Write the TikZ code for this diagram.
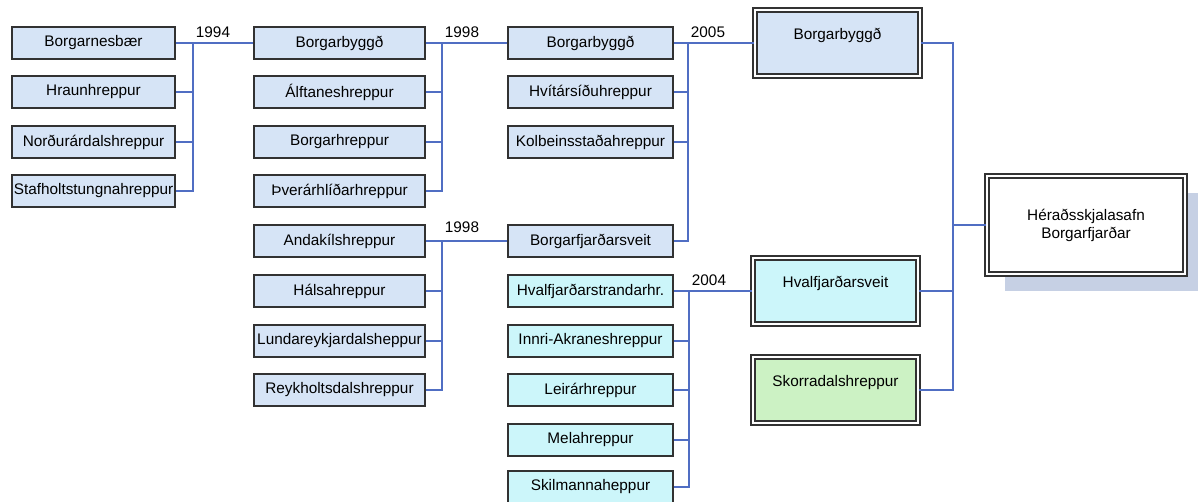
\documentclass[tikz,border=0pt]{standalone}
\usepackage{fontspec}
\setmainfont{Liberation Sans}
\definecolor{munblue}{RGB}{214,228,246}
\definecolor{muncyan}{RGB}{204,246,250}
\definecolor{mungreen}{RGB}{204,242,196}
\definecolor{munedge}{RGB}{50,50,50}
\definecolor{munlink}{RGB}{80,110,195}
\definecolor{munshadow}{RGB}{198,208,228}
\usetikzlibrary{positioning,shadows}

\begin{document}
\begin{tikzpicture}[x=0.75pt,y=-0.75pt,
  mergebox/.style={draw=munedge,line width=1.3pt,fill=munblue,minimum height=24.5pt,
    inner sep=1pt,font=\fontsize{11.5}{13.5}\selectfont},
  mergefinal/.style={mergebox,double=white,line width=1.4pt,double distance=1.6pt,
    minimum width=123.75pt,minimum height=49.5pt,text height=9pt,text depth=13.6pt},
  mergelink/.style={draw=munlink,line width=1pt},
  mergeyear/.style={anchor=south west,inner sep=2pt,yshift=2pt,font=\fontsize{11.5}{13.5}\selectfont}
]
  \useasboundingbox (0,0) rectangle (1198,502);
  % Before 1994
  \node[mergebox,minimum width=122.25pt] (borgarnes) at (93.5,43) {Borgarnesbær};
  \node[mergebox,minimum width=122.25pt] (hraun) at (93.5,92) {Hraunhreppur};
  \node[mergebox,minimum width=122.25pt] (nordurardal) at (93.5,142) {Norðurárdalshreppur};
  \node[mergebox,minimum width=122.25pt] (stafholts) at (93.5,191) {Stafholtstungnahreppur};
  % Before 1998
  \node[mergebox,minimum width=128.25pt] (borgarb94) at (339.5,43) {Borgarbyggð};
  \node[mergebox,minimum width=128.25pt] (alftanes) at (339.5,92) {Álftaneshreppur};
  \node[mergebox,minimum width=128.25pt] (borgarhr) at (339.5,142) {Borgarhreppur};
  \node[mergebox,minimum width=128.25pt] (thverarhlid) at (339.5,191) {Þverárhlíðarhreppur};
  \node[mergebox,minimum width=128.25pt] (andakil) at (339.5,241) {Andakílshreppur};
  \node[mergebox,minimum width=128.25pt] (halsa) at (339.5,291) {Hálsahreppur};
  \node[mergebox,minimum width=128.25pt] (lundar) at (339.5,341) {Lundareykjardalsheppur};
  \node[mergebox,minimum width=128.25pt] (reykholt) at (339.5,390) {Reykholtsdalshreppur};
  % Before 2004/2005
  \node[mergebox,minimum width=123.75pt] (borgarb98) at (590.5,43) {Borgarbyggð};
  \node[mergebox,minimum width=123.75pt] (hvitarsidu) at (590.5,92) {Hvítársíðuhreppur};
  \node[mergebox,minimum width=123.75pt] (kolbeins) at (590.5,142) {Kolbeinsstaðahreppur};
  \node[mergebox,minimum width=123.75pt] (borgarfj) at (590.5,241) {Borgarfjarðarsveit};
  \node[mergebox,minimum width=123.75pt,fill=muncyan] (hvalfjstr) at (590.5,291) {Hvalfjarðarstrandarhr.};
  \node[mergebox,minimum width=123.75pt,fill=muncyan] (innriakr) at (590.5,341) {Innri-Akraneshreppur};
  \node[mergebox,minimum width=123.75pt,fill=muncyan] (leirar) at (590.5,390) {Leirárhreppur};
  \node[mergebox,minimum width=123.75pt,fill=muncyan] (mela) at (590.5,440) {Melahreppur};
  \node[mergebox,minimum width=123.75pt,fill=muncyan] (skilmanna) at (590.5,487) {Skilmannaheppur};
  % Today
  \node[mergefinal] (borgarb05) at (837.5,43) {Borgarbyggð};
  \node[mergefinal,fill=muncyan] (hvalfj) at (835.5,291) {Hvalfjarðarsveit};
  \node[mergefinal,fill=mungreen] (skorradal) at (835.5,390) {Skorradalshreppur};
  \node[mergebox,double=white,line width=1.4pt,double distance=1.6pt,fill=white,align=center,
    minimum width=148.5pt,minimum height=74pt,
    drop shadow={shadow xshift=13.5pt,shadow yshift=-12.75pt,fill=munshadow,opacity=1}]
    (archive) at (1086,225) {Héraðsskjalasafn\\Borgarfjarðar};
  % Junctions
  \coordinate (bus94) at (193,43);
  \coordinate (bus98a) at (442,43);
  \coordinate (bus98b) at (442,241);
  \coordinate (bus05) at (688,43);
  \coordinate (bus04) at (689,291);
  \coordinate (busend) at (953,225);
  % Connectors
  \draw[mergelink] (borgarnes.east) -- (bus94) -- (borgarb94.west);
  \draw[mergelink] (stafholts.east) -| (bus94);
  \foreach \n in {hraun,nordurardal} \draw[mergelink] (\n.east) -- (\n.east -| bus94);
  \draw[mergelink] (borgarb94.east) -- (bus98a) -- (borgarb98.west);
  \draw[mergelink] (thverarhlid.east) -| (bus98a);
  \foreach \n in {alftanes,borgarhr} \draw[mergelink] (\n.east) -- (\n.east -| bus98a);
  \draw[mergelink] (andakil.east) -- (bus98b) -- (borgarfj.west);
  \draw[mergelink] (reykholt.east) -| (bus98b);
  \foreach \n in {halsa,lundar} \draw[mergelink] (\n.east) -- (\n.east -| bus98b);
  \draw[mergelink] (borgarb98.east) -- (bus05) -- (borgarb05.west);
  \draw[mergelink] (borgarfj.east) -| (bus05);
  \foreach \n in {hvitarsidu,kolbeins} \draw[mergelink] (\n.east) -- (\n.east -| bus05);
  \draw[mergelink] (hvalfjstr.east) -- (bus04) -- (hvalfj.west);
  \draw[mergelink] (skilmanna.east) -| (bus04);
  \foreach \n in {innriakr,leirar,mela} \draw[mergelink] (\n.east) -- (\n.east -| bus04);
  \draw[mergelink] (borgarb05.east) -| (busend);
  \draw[mergelink] (skorradal.east) -| (busend);
  \draw[mergelink] (hvalfj.east) -- (hvalfj.east -| busend);
  \draw[mergelink] (busend) -- (archive.west);
  % Years
  \node[mergeyear] (yr94) at (bus94) {1994};
  \node[mergeyear] (yr98a) at (bus98a) {1998};
  \node[mergeyear,yshift=2pt] (yr98b) at (bus98b) {1998};
  \node[mergeyear] (yr05) at (bus05) {2005};
  \node[mergeyear] (yr04) at (bus04) {2004};
\end{tikzpicture}
\end{document}
